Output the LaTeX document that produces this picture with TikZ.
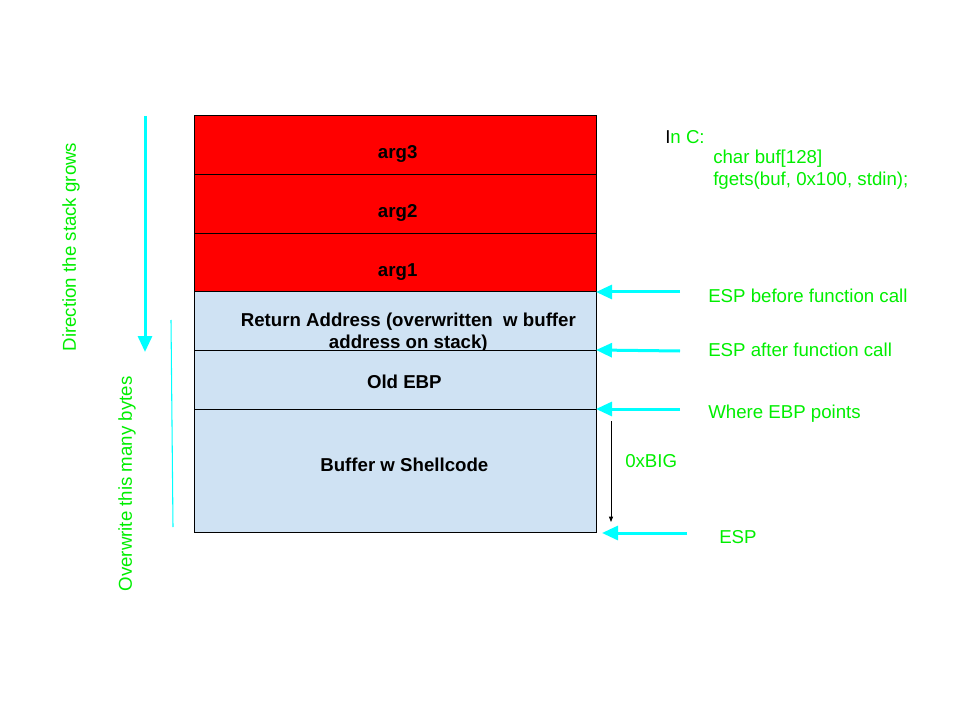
\documentclass[tikz,border=0pt]{standalone}
\usepackage{fontspec}
\setmainfont{Liberation Sans}
\usetikzlibrary{arrows.meta,positioning}
\definecolor{cellred}{HTML}{FF0000}
\definecolor{cellblue}{HTML}{CFE2F3}
\definecolor{notegreen}{HTML}{00EE00}
\definecolor{pointercyan}{HTML}{00FFFF}

\begin{document}
\begin{tikzpicture}[
  x=0.75pt, y=-0.75pt,
  cell/.style={draw, line width=0.75pt, minimum width=301.5pt, minimum height=44.25pt,
    inner sep=0pt, outer sep=0pt, font=\fontsize{14}{16.5}\selectfont\bfseries},
  argcell/.style={cell, fill=cellred, text height=20pt, text depth=0pt,
    execute at begin node={\hspace*{4pt}}},
  framecell/.style={cell, fill=cellblue, execute at begin node={\hspace*{14pt}}},
  note/.style={text=notegreen, font=\fontsize{14}{16.5}\selectfont, inner sep=0pt, anchor=west},
  pointer/.style={pointercyan, line width=2.25pt, -{Triangle[length=12pt, width=10.5pt]}},
  span/.style={-{Triangle[length=4pt, width=3pt]}, line width=0.6pt}
]
\useasboundingbox (0,0) rectangle (960,720);

% the stack frame
\node[argcell, anchor=north west] (arg3) at (194,116) {arg3};
\node[argcell, below=0pt of arg3] (arg2) {arg2};
\node[argcell, below=0pt of arg2, minimum height=43.5pt] (arg1) {arg1};
\node[framecell, below=0pt of arg1, minimum height=43.5pt, text height=25pt, text depth=0pt] (ret)
  {\hspace*{6pt}\begin{tabular}{@{}c@{}}Return Address (overwritten\ \ w buffer\\address on stack)\end{tabular}};
\node[framecell, below=0pt of ret, text height=14pt, text depth=0pt] (oldebp) {Old EBP};
\node[framecell, below=0pt of oldebp, minimum height=92.25pt, text height=10pt, text depth=8pt] (buffer)
  {Buffer w Shellcode};

% left side
\coordinate (growtop) at (145,116);
\coordinate (growbot) at (145,352);
\draw[pointer] (growtop) -- (growbot);
\node[note, anchor=center, rotate=90] (growtext) at (71,247) {Direction the stack grows};
\coordinate (bytestop) at (171,320);
\coordinate (bytesbot) at (173,527);
\draw[pointercyan, line width=0.8pt] (bytestop) -- (bytesbot);
\node[note, anchor=center, rotate=90] (bytestext) at (127,484) {Overwrite this many bytes};

% pointers on the right
\node[note] (espbefore) at (708,296) {ESP before function call};
\node[note] (espafter) at (708,350) {ESP after function call};
\node[note] (ebpat) at (708,414) {Where EBP points};
\node[note] (espnow) at (719,537) {ESP};
\coordinate (espbeforetail) at (680,292);
\coordinate (espaftertail) at (680,351);
\coordinate (ebptail) at (680,409);
\coordinate (esptail) at (687,533);
\coordinate (esptip) at (602,533);
\draw[pointer] (espbeforetail) -- (ret.north east);
\draw[pointer] (espaftertail) -- (oldebp.north east);
\draw[pointer] (ebptail) -- (buffer.north east);
\draw[pointer] (esptail) -- (esptip);

\coordinate (bigtop) at (611,421);
\coordinate (bigbot) at (611,522);
\draw[span] (bigtop) -- (bigbot);
\node[note] (bigtext) at (625,461) {0xBIG};

% the C source
\node[note] (incode) at (665,137) {\textcolor{black}{I}n C:};
\node[note] (bufline) at (713,159) {char buf[128]};
\node[note] (fgetsline) at (713,181) {fgets(buf, 0x100, stdin);};
\end{tikzpicture}
\end{document}
